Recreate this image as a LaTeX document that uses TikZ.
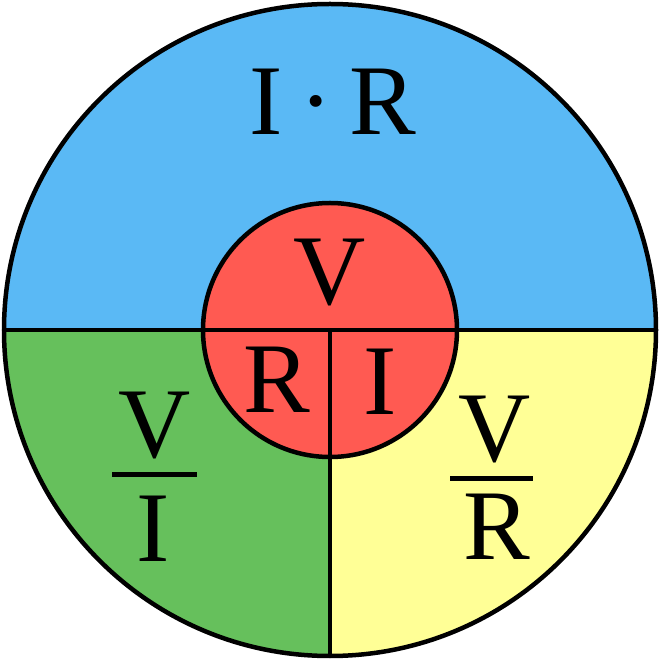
\documentclass[tikz,border=0pt]{standalone}
\usepackage{fontspec}
\setmainfont{Liberation Serif}
\definecolor{skyb}{RGB}{90,185,245}
\definecolor{redc}{RGB}{255,90,82}
\definecolor{grn}{RGB}{102,192,92}
\definecolor{ylw}{RGB}{255,255,150}
\begin{document}
\begin{tikzpicture}[x=1pt,y=1pt,
  lbl/.style={inner sep=0pt,anchor=base,font=\fontsize{100}{110}\selectfont,text=black},
  edge/.style={line width=4.5pt,black},
  bar/.style={line width=5pt,black}]
\useasboundingbox (0,0) rectangle (661,662);
\coordinate (c) at (330,332);
\coordinate (l) at (3,332);
\coordinate (r) at (657,332);
\coordinate (b) at (330,5);
% fills
\fill[skyb] (r) arc[start angle=0,end angle=180,radius=327] -- cycle;
\fill[grn] (l) arc[start angle=180,end angle=270,radius=327] -- (c) -- cycle;
\fill[ylw] (b) arc[start angle=270,end angle=360,radius=327] -- (c) -- cycle;
\fill[redc] (c) circle[radius=127];
% lines
\draw[edge] (l) -- (r);
\draw[edge] (c) -- (b);
\draw[edge] (c) circle[radius=127];
\draw[edge] (c) circle[radius=326];
% labels
\node[lbl] (ir) at (333,527) {I\,·\,R};
\node[lbl] (v) at (330,357) {V};
\node[lbl] (rr) at (277,249) {R};
\node[lbl] (ii) at (380,247) {I};
\node[lbl] (lv) at (155,204) {V};
\node[lbl] (li) at (153,100) {I};
\coordinate (lb1) at (112,187);
\coordinate (lb2) at (197,187);
\draw[bar] (lb1) -- (lb2);
\node[lbl] (rv) at (495,200) {V};
\node[lbl] (rR) at (497,102) {R};
\coordinate (rb1) at (450,183);
\coordinate (rb2) at (533,183);
\draw[bar] (rb1) -- (rb2);
\end{tikzpicture}
\end{document}
